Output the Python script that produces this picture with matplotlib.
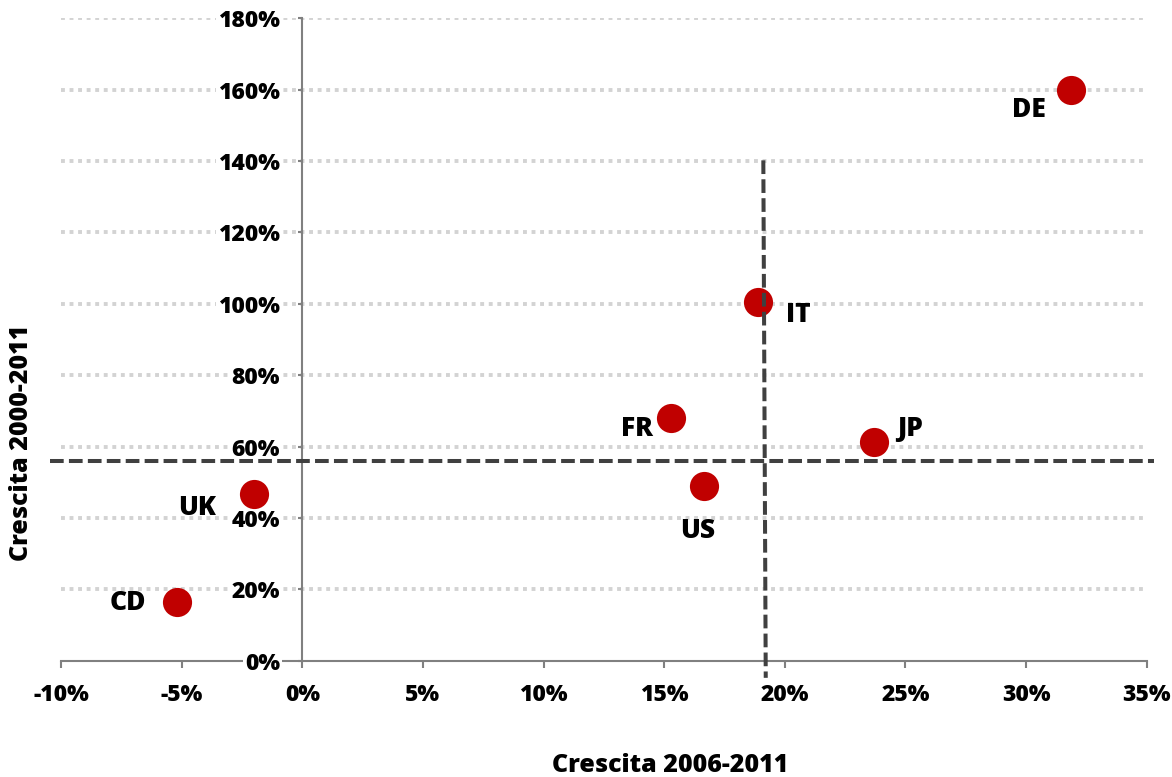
import matplotlib
matplotlib.use("Agg")
import matplotlib.pyplot as plt
from matplotlib.ticker import FuncFormatter

plt.rcParams['font.family'] = ['Open Sans', 'DejaVu Sans']
plt.rcParams['font.weight'] = 'bold'

countries = ["DE", "IT", "FR", "JP", "US", "UK", "CD"]
growth_2006_2011 = [31.85, 18.90, 15.27, 23.68, 16.64, -2.0, -5.2]
growth_2000_2011 = [160.0, 100.4, 68.0, 61.3, 48.9, 46.7, 16.4]
label_offsets = [(-42, -20), (40, -13), (-34, -11), (36, 13), (-6, -45), (-57, -14), (-49, -1)]

mean_x = 19.15
mean_y = 56.0

xticks = list(range(-10, 36, 5))
yticks = list(range(0, 181, 20))

fig = plt.figure(figsize=(11.72, 7.77), dpi=100)
ax = fig.add_axes([61/1172, 1-660.7/777, (1146-60.3)/1172, (660.7-18.3)/777])
ax.set_xlim(-10, 35)
ax.set_ylim(0, 180)

for s in ['top', 'right']:
    ax.spines[s].set_visible(False)
ax.spines['left'].set_position(('data', 0))
ax.spines['bottom'].set_position(('data', 0))
for s in ['left', 'bottom']:
    ax.spines[s].set_color('#808080')
    ax.spines[s].set_linewidth(1.5)
    ax.spines[s].set_zorder(1)

ax.set_xticks(xticks)
ax.set_yticks(yticks)
fmt = FuncFormatter(lambda v, p: f"{int(round(v))}%")
ax.xaxis.set_major_formatter(fmt)
ax.yaxis.set_major_formatter(fmt)
ax.tick_params(axis='x', direction='out', length=5, width=1.5, color='#808080',
               pad=11, labelsize=16.5)
ax.tick_params(axis='y', direction='out', length=3, width=1.5, color='#808080',
               pad=13, labelsize=16.5)
for lab in ax.get_xticklabels() + ax.get_yticklabels():
    lab.set_fontweight('heavy')
for lab in ax.get_yticklabels():
    lab.set_bbox(dict(facecolor='white', edgecolor='none', pad=1.5))

for yv in yticks[1:]:
    ax.axhline(yv, color='#d3d3d3', lw=2.8, linestyle=(0, (1, 1.2)), zorder=0)

ax.plot(growth_2006_2011, growth_2000_2011, 'o', color='#c00000', markersize=21,
        markeredgewidth=0, zorder=3)

ax.plot([-10.45, 35.3], [mean_y, mean_y], color='#404040', lw=2.9,
        linestyle=(0, (3.4, 1.3)), clip_on=False, zorder=4)
ax.plot([mean_x - 0.04, mean_x + 0.06], [140.2, -4.8], color='#404040', lw=2.9,
        linestyle=(0, (3.4, 1.3)), clip_on=False, zorder=4)

for c, x, y, off in zip(countries, growth_2006_2011, growth_2000_2011, label_offsets):
    ax.annotate(c, (x, y), xytext=off, textcoords='offset pixels', ha='center',
                va='center', fontsize=19, fontweight='heavy', color='black', zorder=5)

fig.text(670/1172, 1-765/777, "Crescita 2006-2011", ha='center', va='center',
         fontsize=18, fontweight='heavy')
fig.text(22/1172, 1-443/777, "Crescita 2000-2011", ha='center', va='center',
         rotation=90, fontsize=18, fontweight='heavy')

fig.savefig("out.png", dpi=100, facecolor='white')
